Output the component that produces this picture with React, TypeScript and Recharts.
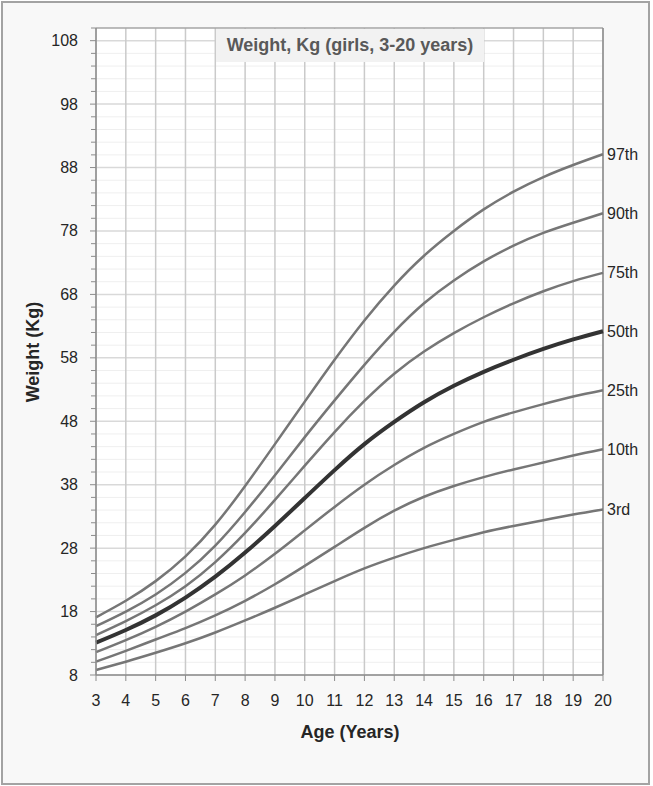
import React from 'react';
import { LineChart, Line, XAxis, YAxis, CartesianGrid, ReferenceLine } from 'recharts';

const ages = [3, 4, 5, 6, 7, 8, 9, 10, 11, 12, 13, 14, 15, 16, 17, 18, 19, 20];
const p97 = [17.1, 19.7, 22.8, 26.7, 31.7, 37.8, 44.4, 51.1, 57.7, 63.9, 69.4, 74.1, 78.0, 81.4, 84.2, 86.5, 88.4, 90.1];
const p90 = [15.7, 18.0, 20.7, 24.1, 28.4, 33.7, 39.5, 45.5, 51.3, 56.9, 62.1, 66.6, 70.2, 73.2, 75.7, 77.7, 79.3, 80.8];
const p75 = [14.3, 16.5, 19.0, 22.0, 25.8, 30.4, 35.6, 41.0, 46.3, 51.2, 55.5, 59.0, 61.9, 64.4, 66.6, 68.5, 70.1, 71.4];
const p50 = [13.1, 15.1, 17.4, 20.2, 23.5, 27.3, 31.5, 35.9, 40.3, 44.4, 47.9, 51.0, 53.6, 55.8, 57.7, 59.4, 60.9, 62.2];
const p25 = [11.6, 13.5, 15.6, 18.0, 20.7, 23.7, 27.1, 30.8, 34.5, 38.0, 41.1, 43.8, 46.0, 47.9, 49.4, 50.7, 51.9, 52.9];
const p10 = [10.1, 11.8, 13.6, 15.4, 17.4, 19.7, 22.3, 25.2, 28.2, 31.2, 33.9, 36.1, 37.8, 39.2, 40.4, 41.5, 42.6, 43.6];
const p3 = [8.8, 10.1, 11.5, 13.0, 14.7, 16.6, 18.6, 20.7, 22.8, 24.8, 26.5, 28.0, 29.3, 30.5, 31.5, 32.4, 33.3, 34.1];

const seriesKeys = ['p97', 'p90', 'p75', 'p50', 'p25', 'p10', 'p3'];
const seriesLabels = ['97th', '90th', '75th', '50th', '25th', '10th', '3rd'];
const seriesValues = [p97, p90, p75, p50, p25, p10, p3];

const xTicks = [3, 4, 5, 6, 7, 8, 9, 10, 11, 12, 13, 14, 15, 16, 17, 18, 19, 20];
const yMajorTicks = [8, 18, 28, 38, 48, 58, 68, 78, 88, 98, 108];
const yAllTicks = [8, 10, 12, 14, 16, 18, 20, 22, 24, 26, 28, 30, 32, 34, 36, 38, 40, 42, 44, 46, 48, 50, 52, 54, 56, 58, 60, 62, 64, 66, 68, 70, 72, 74, 76, 78, 80, 82, 84, 86, 88, 90, 92, 94, 96, 98, 100, 102, 104, 106, 108, 110];

const titleText = 'Weight, Kg (girls, 3-20 years)';
const xTitle = 'Age (Years)';
const yTitle = 'Weight (Kg)';

const data = ages.map((a, i) => {
  const row: Record<string, number> = { age: a };
  seriesKeys.forEach((k, j) => {
    row[k] = seriesValues[j][i];
  });
  return row;
});

const FONT = '"Liberation Sans", Arial, sans-serif';
const TEXT = '#262626';

const YTick = (props: any) => {
  const { x, y, payload } = props;
  const v = payload.value;
  const isMajor = yMajorTicks.indexOf(v) >= 0;
  return (
    <g>
      <line x1={x - (isMajor ? 6 : 5)} x2={x} y1={y} y2={y} stroke="#8c8c8c" strokeWidth={1} />
      {isMajor && v <= 108 ? (
        <text x={x - 18} y={y} textAnchor="end" dominantBaseline="central" fontSize={16} fill={TEXT} fontFamily={FONT}>
          {v}
        </text>
      ) : null}
    </g>
  );
};

const makeEndLabel = (name: string) => (props: any) => {
  const { x, y, index } = props;
  if (index !== ages.length - 1) return null;
  return (
    <text x={x + 4} y={y} dominantBaseline="central" fontSize={16} fill={TEXT} fontFamily={FONT}>
      {name}
    </text>
  );
};

export default function App() {
  return (
    <div style={{ position: 'absolute', left: 0, top: 0, width: 653, height: 786, background: '#ffffff' }}>
      <div
        style={{
          position: 'absolute',
          left: 1,
          top: 1,
          width: 645,
          height: 780,
          border: '2px solid #a3a3a3',
          background: '#f8f8f8',
        }}
      />
      <div style={{ position: 'absolute', left: 0, top: 0 }}>
        <LineChart
          width={653}
          height={786}
          data={data}
          margin={{ top: 28, right: 50, left: 0, bottom: 71 }}
          style={{ fontFamily: FONT }}
        >
          <CartesianGrid horizontal={false} vertical={false} fill="#ffffff" />
          {yAllTicks
            .filter((v) => yMajorTicks.indexOf(v) < 0 && v < 110)
            .map((v) => (
              <ReferenceLine key={'hm' + v} y={v} stroke="#efefef" strokeWidth={1} />
            ))}
          {yMajorTicks.map((v) => (
            <ReferenceLine key={'hM' + v} y={v} stroke="#d9d9d9" strokeWidth={1.5} />
          ))}
          {xTicks.map((v) => (
            <ReferenceLine key={'v' + v} x={v} stroke="#cacaca" strokeWidth={1.5} />
          ))}
          <ReferenceLine y={110} stroke="#a6a6a6" strokeWidth={1.5} />
          <ReferenceLine x={20} stroke="#8c8c8c" strokeWidth={1.5} />
          <XAxis
            dataKey="age"
            type="number"
            domain={[3, 20]}
            ticks={xTicks}
            allowDecimals={false}
            height={40}
            tickSize={6}
            tickMargin={14}
            axisLine={{ stroke: '#8c8c8c', strokeWidth: 1.5 }}
            tickLine={{ stroke: '#8c8c8c' }}
            tick={{ fontSize: 16, fill: TEXT, fontFamily: FONT }}
            interval={0}
          />
          <YAxis
            type="number"
            domain={[8, 110]}
            ticks={yAllTicks}
            width={96}
            interval={0}
            tickSize={0}
            tickMargin={0}
            tickLine={false}
            axisLine={{ stroke: '#8c8c8c', strokeWidth: 1.5 }}
            tick={<YTick />}
          />
          {seriesKeys.map((k, j) => (
            <Line
              key={k}
              type="natural"
              dataKey={k}
              stroke={k === 'p50' ? '#333333' : '#767676'}
              strokeWidth={k === 'p50' ? 4 : 2.5}
              dot={false}
              activeDot={false}
              isAnimationActive={false}
              label={makeEndLabel(seriesLabels[j])}
            />
          ))}
        </LineChart>
      </div>
      <div
        style={{
          position: 'absolute',
          left: 216,
          top: 29,
          width: 268,
          height: 33,
          background: '#f2f2f2',
          color: '#595959',
          fontFamily: FONT,
          fontWeight: 'bold',
          fontSize: 18,
          lineHeight: '33px',
          textAlign: 'center',
          whiteSpace: 'nowrap',
        }}
      >
        {titleText}
      </div>
      <div
        style={{
          position: 'absolute',
          left: 250,
          top: 720,
          width: 200,
          textAlign: 'center',
          fontFamily: FONT,
          fontWeight: 'bold',
          fontSize: 18,
          color: TEXT,
          lineHeight: '24px',
        }}
      >
        {xTitle}
      </div>
      <div
        style={{
          position: 'absolute',
          left: 33 - 100,
          top: 352 - 12,
          width: 200,
          height: 24,
          textAlign: 'center',
          fontFamily: FONT,
          fontWeight: 'bold',
          fontSize: 18,
          color: TEXT,
          lineHeight: '24px',
          transform: 'rotate(-90deg)',
        }}
      >
        {yTitle}
      </div>
    </div>
  );
}
